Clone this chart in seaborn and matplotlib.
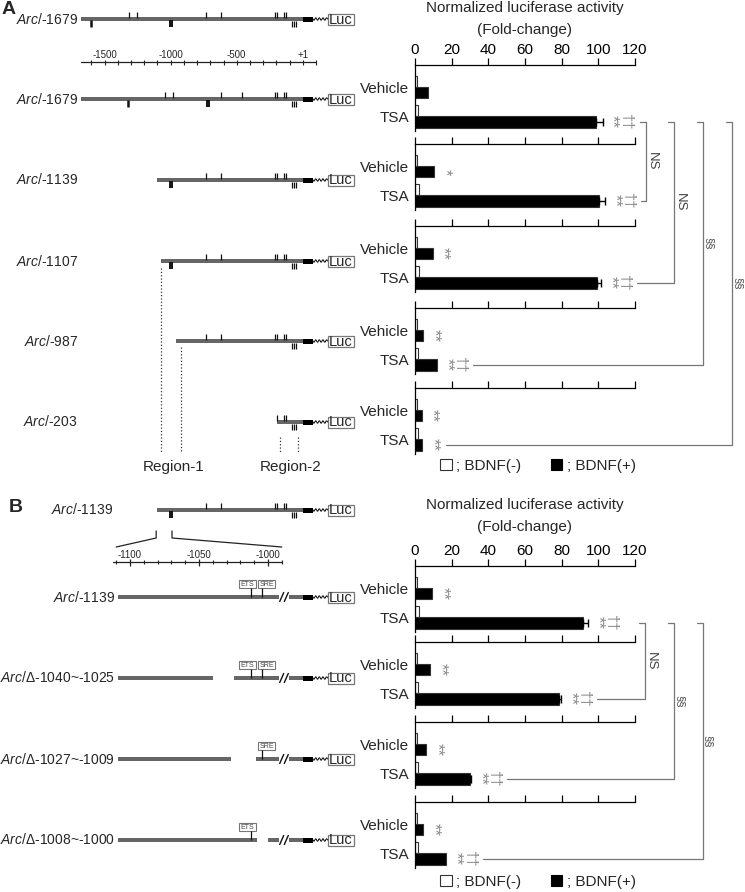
import numpy as np
import pandas as pd
import matplotlib
matplotlib.use('Agg')
import matplotlib.pyplot as plt
from matplotlib.patches import Rectangle, Patch
import seaborn as sns

# ---- data (fold-change) ----
# panel A
a_names = ['-1679', '-1139', '-1107', '-987', '-203']
a_veh_minus = [1.2, 1.2, 1.2, 1.2, 1.2]
a_veh_plus = [7.0, 10.4, 9.6, 4.5, 3.6]
a_tsa_minus = [1.8, 2.4, 2.0, 1.6, 1.4]
a_tsa_plus = [98.7, 100.5, 99.5, 11.8, 4.0]
a_tsa_err = [3.6, 3.1, 2.0, 0.3, 0.2]
a_veh_sig = ['', '*', '**', '**', '**']
a_tsa_sig = ['**', '**', '**', '**', '**']
a_tsa_dag = ['††', '††', '††', '††', '']
a_compare = ['NS', 'NS', '§§', '§§']

# panel B
b_names = ['-1139', 'Δ-1040~-1025', 'Δ-1027~-1009', 'Δ-1008~-1000']
b_veh_minus = [1.2, 1.2, 1.2, 1.2]
b_veh_plus = [9.1, 8.2, 5.8, 4.5]
b_tsa_minus = [2.0, 1.8, 1.6, 1.6]
b_tsa_plus = [91.8, 78.5, 30.0, 16.9]
b_tsa_err = [2.7, 1.0, 0.6, 0.3]
b_veh_sig = ['**', '**', '**', '**']
b_tsa_sig = ['**', '**', '**', '**']
b_tsa_dag = ['††', '††', '††', '††']
b_compare = ['NS', '§§', '§§']

# promoter maps (bp relative to +1)
a_map_labels = ['-1679', '-1679', '-1139', '-1107', '-987', '-203']
a_map_starts = [-1679, -1679, -1106, -1076, -962, -197]
a_map_up = [[-1316, -1255, -735, -620, -210, -192, -142, -124],
            [-1041, -979, -620, -459, -210, -192, -142, -124],
            [-735, -620, -210, -192, -142, -124],
            [-735, -620, -210, -192, -142, -124],
            [-735, -620, -210, -192, -142, -124],
            [-192, -142, -124]]
a_map_down = [[-1607], [-1324], [], [], [], []]
a_map_block = [[-995], [-719], [-995], [-995], [], []]
tata_marks = [-83, -68, -53]
region1 = [-1076, -922]
region2 = [-172, -36]
a_scale_labels = {-1500: '-1500', -1000: '-1000', -500: '-500', 0: '+1'}

b_map_start = -1109
b_map_end = -992
b_deletions = [None, (-1040, -1025), (-1027, -1009), (-1008, -1000)]
b_sites = {'ETS': -1012, 'SRE': -1004}
b_sites_kept = [['ETS', 'SRE'], ['ETS', 'SRE'], ['SRE'], ['ETS']]
b_zoom = (-1110, -990)
b_scale_labels = [-1100, -1050, -1000]

# ---- style ----
sns.set_theme(style='white')
plt.rcParams['font.family'] = ['Liberation Sans', 'DejaVu Sans']
plt.rcParams['mathtext.fontset'] = 'custom'
plt.rcParams['mathtext.it'] = 'Liberation Sans:italic'
plt.rcParams['mathtext.rm'] = 'Liberation Sans'

W, H = 745, 892
fig = plt.figure(figsize=(W / 100, H / 100), dpi=100)
fig.patch.set_facecolor('white')

# overlay axes in pixel units for the schematics
ov = fig.add_axes([0, 0, 1, 1], zorder=5)
ov.set_xlim(0, W)
ov.set_ylim(H, 0)
ov.axis('off')
ov.patch.set_visible(False)

GREY = '#666666'


def xa(bp):
    return 302.7 + 0.132 * bp


def xb(bp):
    return 268 + 1.38 * (bp + 1000)


def to_px(ax, x, y):
    dx, dy = ax.transData.transform((x, y))
    return dx, H - dy


def seg(x0, x1, y, h=4.0, c=GREY):
    ov.add_patch(Rectangle((x0, y - h / 2), x1 - x0, h, fc=c, ec='none'))


def tail(x0, y):
    seg(x0, 303, y)
    seg(303, 313, y, h=5, c='black')
    zx = np.linspace(313, 327.5, 25)
    ov.plot(zx, y + 1.3 * np.sin((zx - 313) / 14.5 * 8 * np.pi), color='black', lw=0.7)
    ov.add_patch(Rectangle((327.7, y - 5.5), 26.6, 11, fc='white', ec='#777777', lw=0.9))
    ov.text(341, y + 0.5, 'Luc', ha='center', va='center', fontsize=10.5)


def a_map(y, start, up, down, block):
    tail(xa(start), y)
    ov.vlines([xa(b) for b in up if b >= start], y - 7, y - 1, color='#111111', lw=0.9)
    ov.vlines([xa(b) for b in down if b >= start], y + 1, y + 8, color='#111111', lw=1.8)
    for b in block:
        if b >= start:
            ov.vlines([xa(b) - 1.1, xa(b) + 1.1], y + 1, y + 8, color='#111111', lw=1.4)
    ov.vlines([xa(b) for b in tata_marks], y + 2, y + 8, color='#111111', lw=0.9)


# ---- panel A schematics ----
a_map_y = [19, 99, 180, 261, 341, 422]
for y, lab, st, up, dn, bl in zip(a_map_y, a_map_labels, a_map_starts, a_map_up, a_map_down, a_map_block):
    ov.text(78, y, r'$Arc/$' + lab, ha='right', va='center', fontsize=10)
    a_map(y, st, up, dn, bl)

# scale bar
ov.plot([xa(-1679), xa(100)], [62, 62], color='#222222', lw=0.9)
ticks = list(range(-1600, 101, 100))
ov.vlines([xa(t) for t in ticks], 59.5, 64.5, color='#222222', lw=0.8)
for t, s in a_scale_labels.items():
    ov.text(xa(t), 55.5, s, ha='center', va='center', fontsize=7)

# region markers
ov.vlines([xa(region1[0])], 268, 452, color='#333333', lw=0.9, linestyles=':')
ov.vlines([xa(region1[1])], 347, 452, color='#333333', lw=0.9, linestyles=':')
ov.vlines([xa(b) for b in region2], 437, 452, color='#333333', lw=0.9, linestyles=':')
ov.text(174, 467, 'Region-1', ha='center', va='center', fontsize=11)
ov.text(291, 467, 'Region-2', ha='center', va='center', fontsize=11)

# ---- panel B schematics ----
ov.text(113, 510, r'$Arc/$-1139', ha='right', va='center', fontsize=10)
a_map(510, a_map_starts[2], a_map_up[2], a_map_down[2], a_map_block[2])
for bp in b_zoom:
    ov.plot([xa(bp), xa(bp), xb(bp)], [531, 538, 547], color='#222222', lw=0.9)

ov.plot([xb(-1112), xb(-990)], [561.7, 561.7], color='#222222', lw=0.9)
minor = list(range(-1110, -989, 10))
ov.vlines([xb(t) for t in minor if t not in b_scale_labels], 559.5, 563.5, color='#222222', lw=0.8)
ov.vlines([xb(t) for t in b_scale_labels], 558.5, 566, color='#222222', lw=0.9)
for t in b_scale_labels:
    ov.text(xb(t), 554.5, str(t), ha='center', va='center', fontsize=7)

b_map_y = [597, 678, 759, 840]
box_off = {'ETS': -12, 'SRE': -4}
for y, lab, dele, kept in zip(b_map_y, b_names, b_deletions, b_sites_kept):
    ov.text(115, y, r'$Arc/$' + lab, ha='right', va='center', fontsize=10)
    if dele is None:
        seg(xb(b_map_start), xb(b_map_end), y)
    else:
        seg(xb(b_map_start), xb(dele[0]), y)
        seg(xb(dele[1]), xb(b_map_end), y)
    for sx in (281.7, 286.3):
        ov.plot([sx - 2, sx + 2], [y + 4.5, y - 4.5], color='#111111', lw=1.0)
    tail(289, y)
    for name in kept:
        sx = xb(b_sites[name])
        ov.vlines([sx], y - 9, y, color='#111111', lw=0.9)
        bx = sx + box_off[name]
        ov.add_patch(Rectangle((bx, y - 17), 16.5, 8, fc='white', ec='#777777', lw=0.8))
        ov.text(bx + 8.25, y - 12.8, name, ha='center', va='center', fontsize=5, color='#444444')


# ---- bar charts ----
def bar_panel(tops, veh_m, veh_p, tsa_m, tsa_p, tsa_err, veh_sig, tsa_sig, tsa_dag,
              compare, bracket_x, title_y, legend_y):
    fig.text(525 / W, 1 - title_y / H, 'Normalized luciferase activity',
             ha='center', va='center', fontsize=11)
    fig.text(525 / W, 1 - (title_y + 22) / H, '(Fold-change)',
             ha='center', va='center', fontsize=11)
    ends = []
    for i, top in enumerate(tops):
        ax = fig.add_axes([415 / W, 1 - (top + 66) / H, 220 / W, 66 / H])
        df = pd.DataFrame({'treat': ['Vehicle', 'TSA', 'Vehicle', 'TSA'],
                           'bdnf': ['-', '-', '+', '+'],
                           'val': [veh_m[i], tsa_m[i], veh_p[i], tsa_p[i]]})
        sns.barplot(data=df, x='val', y='treat', hue='bdnf', order=['Vehicle', 'TSA'],
                    hue_order=['-', '+'], palette=['white', 'black'], orient='h',
                    width=0.78, errorbar=None, legend=False, edgecolor='#333333',
                    linewidth=0.8, ax=ax)
        ax.set_xlim(0, 120)
        ax.set_ylim(1.51, -0.76)
        ax.set_xlabel('')
        ax.set_ylabel('')
        ax.xaxis.tick_top()
        ax.set_xticks(range(0, 121, 20))
        if i > 0:
            ax.set_xticklabels([])
        ax.tick_params(axis='x', direction='out', length=5, width=0.9, pad=1,
                       labelsize=11, colors='black', top=True, bottom=False)
        ax.tick_params(axis='y', length=0, pad=4, labelsize=11)
        for s in ('bottom', 'right'):
            ax.spines[s].set_visible(False)
        for s in ('top', 'left'):
            ax.spines[s].set_color('black')
            ax.spines[s].set_linewidth(0.9)
        ax.patch.set_alpha(0)

        veh_bar, tsa_bar = ax.containers[1][0], ax.containers[1][1]
        vy = veh_bar.get_y() + veh_bar.get_height() / 2
        ty = tsa_bar.get_y() + tsa_bar.get_height() / 2
        if tsa_err[i] > 0.5:
            ax.errorbar(tsa_p[i], ty, xerr=[[0], [tsa_err[i]]], fmt='none',
                        ecolor='black', elinewidth=1, capsize=3, capthick=1)
        kw = dict(textcoords='offset pixels', rotation=-90, ha='center', va='center',
                  fontsize=12, color='#888888')
        if veh_sig[i]:
            ax.annotate(veh_sig[i], xy=(veh_p[i], vy), xytext=(11, 0), **kw)
        tx = tsa_p[i] + tsa_err[i]
        ax.annotate(tsa_sig[i], xy=(tx, ty), xytext=(10, 0), **kw)
        last = 10
        if tsa_dag[i]:
            ax.annotate(tsa_dag[i], xy=(tx, ty), xytext=(23, 0), fontsize=10.5,
                        **{k: v for k, v in kw.items() if k != 'fontsize'})
            last = 23
        px, py = to_px(ax, tx, ty)
        ends.append((px + last + 13, py))

    # comparison brackets
    top_y = ends[0][1]
    for k, (lab, bx) in enumerate(zip(compare, bracket_x)):
        x0, y1 = ends[k + 1]
        ov.plot([bx - 6, bx, bx], [top_y, top_y, y1], color='#777777', lw=0.9)
        ov.plot([x0, bx], [y1, y1], color='#777777', lw=0.9)
        ov.text(bx + 6, (top_y + y1) / 2, lab, rotation=-90, ha='center', va='center',
                fontsize=9.5 if lab == 'NS' else 8, color='#444444')

    fig.legend(handles=[Patch(fc='white', ec='#333333', lw=0.8, label='; BDNF(-)'),
                        Patch(fc='black', ec='black', lw=0.8, label='; BDNF(+)')],
               loc='center', bbox_to_anchor=(538 / W, 1 - legend_y / H), ncol=2,
               frameon=False, fontsize=11, handlelength=0.75, handletextpad=0.3,
               columnspacing=1.9, borderpad=0, borderaxespad=0)


bar_panel([65, 144, 226, 308, 388], a_veh_minus, a_veh_plus, a_tsa_minus, a_tsa_plus,
          a_tsa_err, a_veh_sig, a_tsa_sig, a_tsa_dag, a_compare,
          [645.7, 674, 702.7, 731.7], 8, 466)
bar_panel([566, 642, 722, 802], b_veh_minus, b_veh_plus, b_tsa_minus, b_tsa_plus,
          b_tsa_err, b_veh_sig, b_tsa_sig, b_tsa_dag, b_compare,
          [645, 674, 702.5], 505, 882)

fig.text(9 / W, 1 - 10 / H, 'A', ha='center', va='center', fontsize=14, fontweight='bold')
fig.text(16 / W, 1 - 507 / H, 'B', ha='center', va='center', fontsize=14, fontweight='bold')

fig.savefig('out.png', dpi=100)
